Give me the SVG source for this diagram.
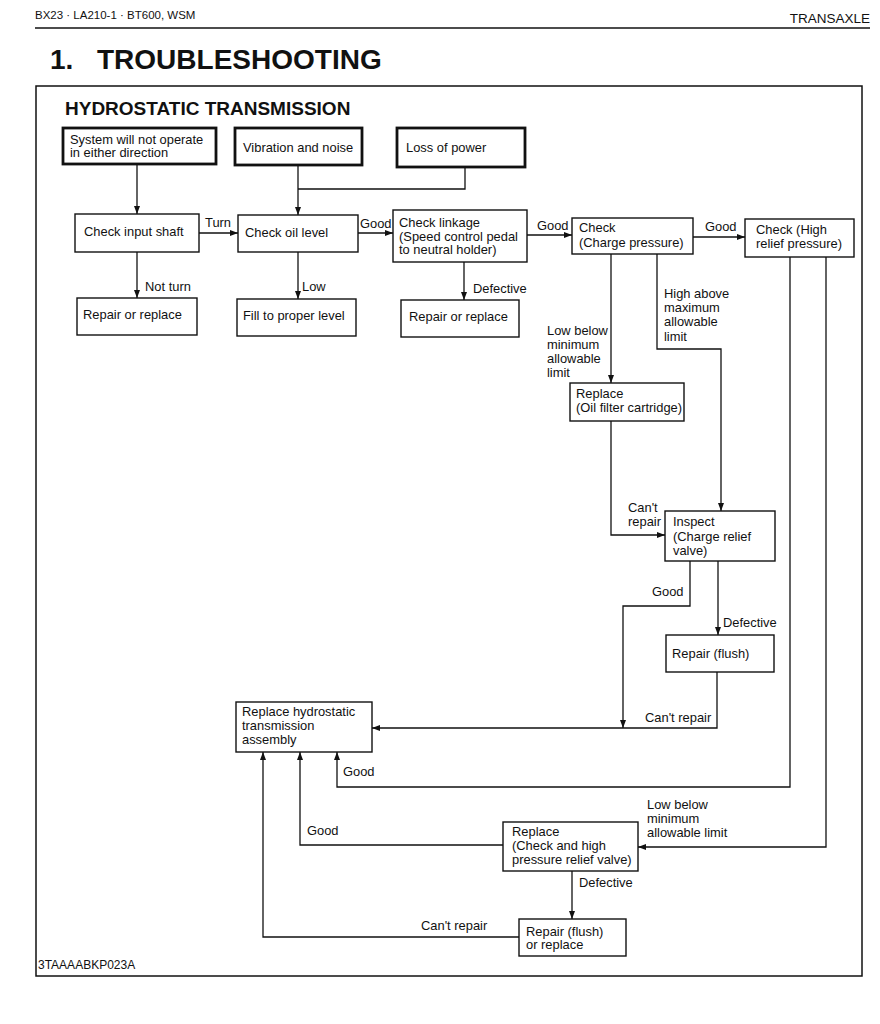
<svg xmlns="http://www.w3.org/2000/svg" width="880" height="1024" viewBox="0 0 880 1024">
<defs>
<marker id="ah" markerWidth="8" markerHeight="6" refX="8" refY="3" orient="auto" markerUnits="userSpaceOnUse">
<path d="M0,0 L8,3 L0,6 Z" fill="#111"/>
</marker>
</defs>
<style>
text{font-family:"Liberation Sans",Arial,sans-serif;fill:#111;}
.t{font-size:12.9px;}
.box{fill:#fff;stroke:#111;stroke-width:1.4;}
.thick{fill:#fff;stroke:#111;stroke-width:2.8;}
.c{fill:none;stroke:#111;stroke-width:1.3;}
.a{marker-end:url(#ah);}
</style>
<rect x="0" y="0" width="880" height="1024" fill="#fff"/>
<g id="header">
<text x="35" y="19" style="font-size:11.5px">BX23 · LA210-1 · BT600, WSM</text>
<text x="870" y="23" text-anchor="end" style="font-size:13.5px">TRANSAXLE</text>
<line x1="35" y1="28" x2="870" y2="28" stroke="#111" stroke-width="1.5"/>
<text x="50" y="69" style="font-size:28px;font-weight:bold">1.</text>
<text x="97" y="69" style="font-size:28px;font-weight:bold">TROUBLESHOOTING</text>
</g>
<g id="frame">
<rect x="36" y="86" width="826" height="890" fill="none" stroke="#111" stroke-width="1.5"/>
<text x="65" y="115" style="font-size:19px;font-weight:bold">HYDROSTATIC TRANSMISSION</text>
<text x="38" y="969" style="font-size:12px">3TAAAABKP023A</text>
</g>
<g id="connectors">
<path class="c a" d="M137,164 V214"/>
<path class="c a" d="M298,165 V215"/>
<path class="c" d="M465,167 V189 H298"/>
<path class="c a" d="M199,233 H238"/>
<path class="c a" d="M137,252 V298"/>
<path class="c a" d="M298,252 V299"/>
<path class="c a" d="M358,233 H393"/>
<path class="c a" d="M464,262 V300"/>
<path class="c a" d="M527,235 H572"/>
<path class="c a" d="M693,237 H745"/>
<path class="c a" d="M611,254 V383"/>
<path class="c a" d="M657,254 V349 H721 V511"/>
<path class="c a" d="M611,421 V535 H665"/>
<path class="c a" d="M690,561 V606 H623 V728"/>
<path class="c a" d="M718,561 V635"/>
<path class="c a" d="M717,672 V728 H372"/>
<path class="c a" d="M790,257 V787 H337 V752"/>
<path class="c a" d="M826,257 V847 H638"/>
<path class="c a" d="M503,845 H300 V752"/>
<path class="c a" d="M572,871 V919"/>
<path class="c a" d="M519,937 H263 V752"/>
</g>
<g id="labels" class="t">
<text x="205" y="227">Turn</text>
<text x="360" y="228">Good</text>
<text x="145" y="291">Not turn</text>
<text x="302" y="291">Low</text>
<text x="473" y="293">Defective</text>
<text x="537" y="230">Good</text>
<text x="705" y="231">Good</text>
<text x="664" y="298">High above</text>
<text x="664" y="312">maximum</text>
<text x="664" y="326">allowable</text>
<text x="664" y="341">limit</text>
<text x="547" y="335">Low below</text>
<text x="547" y="349">minimum</text>
<text x="547" y="363">allowable</text>
<text x="547" y="377">limit</text>
<text x="628" y="512">Can't</text>
<text x="628" y="526">repair</text>
<text x="652" y="596">Good</text>
<text x="723" y="627">Defective</text>
<text x="645" y="722">Can't repair</text>
<text x="343" y="776">Good</text>
<text x="307" y="835">Good</text>
<text x="647" y="809">Low below</text>
<text x="647" y="823">minimum</text>
<text x="647" y="837">allowable limit</text>
<text x="579" y="887">Defective</text>
<text x="421" y="930">Can't repair</text>
</g>
<g id="n1"><rect class="thick" x="63" y="128" width="153" height="36"/><text class="t" x="70" y="144">System will not operate</text><text class="t" x="70" y="157">in either direction</text></g>
<g id="n2"><rect class="thick" x="235" y="128" width="127" height="37"/><text class="t" x="243" y="152">Vibration and noise</text></g>
<g id="n3"><rect class="thick" x="397" y="128" width="128" height="39"/><text class="t" x="406" y="152">Loss of power</text></g>
<g id="n4"><rect class="box" x="75" y="214" width="124" height="38"/><text class="t" x="84" y="236">Check input shaft</text></g>
<g id="n5"><rect class="box" x="238" y="215" width="120" height="37"/><text class="t" x="245" y="237">Check oil level</text></g>
<g id="n6"><rect class="box" x="393" y="210" width="134" height="52"/><text class="t" x="399" y="227">Check linkage</text><text class="t" x="399" y="241">(Speed control pedal</text><text class="t" x="399" y="254">to neutral holder)</text></g>
<g id="n7"><rect class="box" x="77" y="298" width="120" height="37"/><text class="t" x="83" y="319">Repair or replace</text></g>
<g id="n8"><rect class="box" x="237" y="299" width="119" height="37"/><text class="t" x="243" y="320">Fill to proper level</text></g>
<g id="n9"><rect class="box" x="401" y="300" width="118" height="37"/><text class="t" x="409" y="321">Repair or replace</text></g>
<g id="n10"><rect class="box" x="572" y="218" width="121" height="36"/><text class="t" x="579" y="232">Check</text><text class="t" x="579" y="247">(Charge pressure)</text></g>
<g id="n11"><rect class="box" x="745" y="219" width="109" height="38"/><text class="t" x="756" y="234">Check (High</text><text class="t" x="756" y="248">relief pressure)</text></g>
<g id="n12"><rect class="box" x="570" y="383" width="114" height="38"/><text class="t" x="576" y="398">Replace</text><text class="t" x="576" y="412">(Oil filter cartridge)</text></g>
<g id="n13"><rect class="box" x="665" y="511" width="110" height="50"/><text class="t" x="673" y="526">Inspect</text><text class="t" x="673" y="541">(Charge relief</text><text class="t" x="673" y="555">valve)</text></g>
<g id="n14"><rect class="box" x="666" y="635" width="108" height="37"/><text class="t" x="672" y="658">Repair (flush)</text></g>
<g id="n15"><rect class="box" x="236" y="702" width="136" height="50"/><text class="t" x="242" y="716">Replace hydrostatic</text><text class="t" x="242" y="730">transmission</text><text class="t" x="242" y="744">assembly</text></g>
<g id="n16"><rect class="box" x="503" y="822" width="135" height="49"/><text class="t" x="512" y="836">Replace</text><text class="t" x="512" y="850">(Check and high</text><text class="t" x="512" y="864">pressure relief valve)</text></g>
<g id="n17"><rect class="box" x="519" y="919" width="107" height="37"/><text class="t" x="526" y="936">Repair (flush)</text><text class="t" x="526" y="949">or replace</text></g>
</svg>
